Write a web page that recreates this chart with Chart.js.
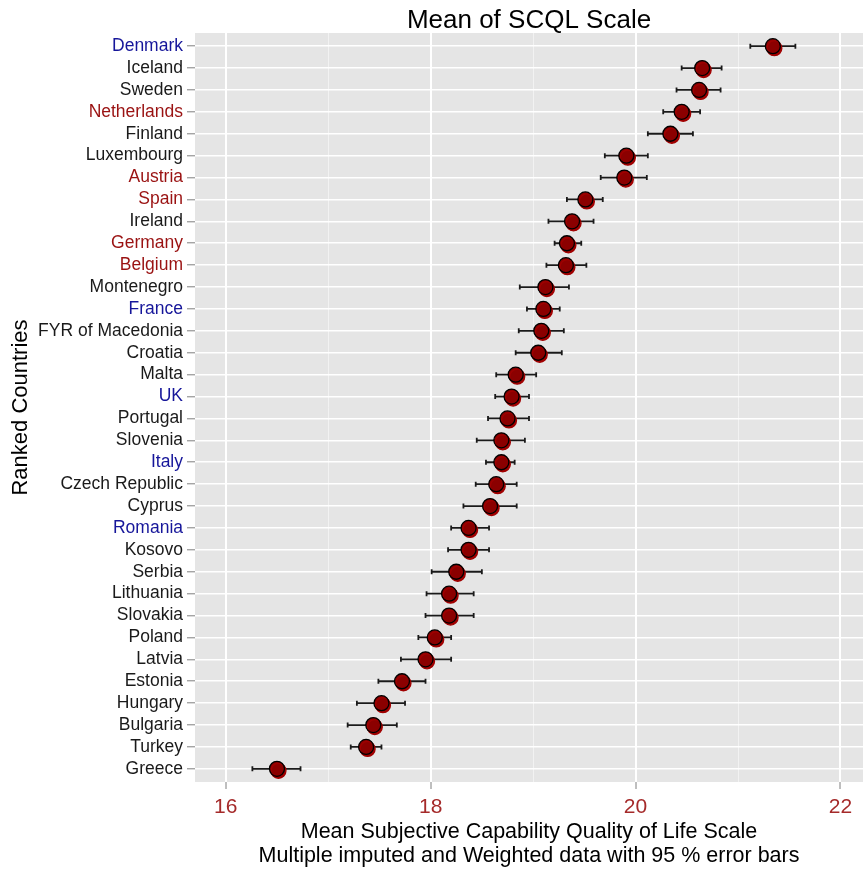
<!DOCTYPE html>
<html>
<head>
<meta charset="utf-8">
<title>Mean of SCQL Scale</title>
<script src="https://cdn.jsdelivr.net/npm/chart.js@4/dist/chart.umd.min.js"></script>
<style>
  html, body { margin: 0; padding: 0; background: #ffffff; }
  #wrap { width: 863px; height: 870px; position: relative; }
</style>
</head>
<body>
<div id="wrap"><canvas id="chart" width="863" height="870"></canvas></div>
<script>
// Countries ranked by mean SCQL score (top to bottom)
const countries = [
  'Denmark', 'Iceland', 'Sweden', 'Netherlands', 'Finland', 'Luxembourg',
  'Austria', 'Spain', 'Ireland', 'Germany', 'Belgium', 'Montenegro',
  'France', 'FYR of Macedonia', 'Croatia', 'Malta', 'UK', 'Portugal',
  'Slovenia', 'Italy', 'Czech Republic', 'Cyprus', 'Romania', 'Kosovo',
  'Serbia', 'Lithuania', 'Slovakia', 'Poland', 'Latvia', 'Estonia',
  'Hungary', 'Bulgaria', 'Turkey', 'Greece'
];

// Mean score and 95 % confidence limits
const means = [
  21.34, 20.65, 20.62, 20.45, 20.34, 19.91, 19.89, 19.51, 19.38, 19.33,
  19.32, 19.12, 19.10, 19.08, 19.05, 18.83, 18.79, 18.75, 18.69, 18.69,
  18.64, 18.58, 18.37, 18.37, 18.25, 18.18, 18.18, 18.04, 17.95, 17.72,
  17.52, 17.44, 17.37, 16.50
];
const lower = [
  21.12, 20.45, 20.40, 20.27, 20.12, 19.70, 19.66, 19.33, 19.15, 19.21,
  19.13, 18.87, 18.94, 18.86, 18.83, 18.64, 18.63, 18.56, 18.45, 18.54,
  18.44, 18.32, 18.20, 18.17, 18.01, 17.96, 17.95, 17.88, 17.71, 17.49,
  17.28, 17.19, 17.22, 16.26
];
const upper = [
  21.56, 20.84, 20.83, 20.63, 20.56, 20.12, 20.11, 19.68, 19.59, 19.47,
  19.52, 19.35, 19.26, 19.30, 19.28, 19.03, 18.96, 18.96, 18.92, 18.82,
  18.84, 18.84, 18.57, 18.57, 18.50, 18.42, 18.42, 18.20, 18.20, 17.95,
  17.75, 17.67, 17.52, 16.73
];

// Country groups with coloured labels
const blueCountries = ['Denmark', 'France', 'UK', 'Italy', 'Romania'];
const redCountries = ['Netherlands', 'Austria', 'Spain', 'Germany', 'Belgium'];

// X axis ticks (major ones carry a label)
const xTicks = [16, 17, 18, 19, 20, 21, 22];
const xTickLabels = ['16', '', '18', '', '20', '', '22'];

const chartTitle = 'Mean of SCQL Scale';

const FONT = "'Liberation Sans', Arial, Helvetica, sans-serif";
Chart.defaults.font.family = FONT;

// Grey panel behind the plotting area
const panelBackground = {
  id: 'panelBackground',
  beforeDraw(chart) {
    const { ctx, chartArea: a } = chart;
    ctx.save();
    ctx.fillStyle = '#ffffff';
    ctx.fillRect(0, 0, chart.width, chart.height);
    ctx.fillStyle = '#E5E5E5';
    ctx.fillRect(a.left, a.top, a.right - a.left, a.bottom - a.top);
    ctx.restore();
  }
};

// Title centred over the panel rather than the whole canvas
const panelTitle = {
  id: 'panelTitle',
  afterDraw(chart) {
    const { ctx, chartArea: a } = chart;
    ctx.save();
    ctx.font = '26px ' + FONT;
    ctx.fillStyle = '#000000';
    ctx.textAlign = 'center';
    ctx.textBaseline = 'alphabetic';
    ctx.fillText(chartTitle, (a.left + a.right) / 2, a.top - 5);
    ctx.restore();
  }
};

// Horizontal 95 % error bars with small end caps
const errorBars = {
  id: 'errorBars',
  beforeDatasetsDraw(chart) {
    const { ctx, scales: { x, y } } = chart;
    ctx.save();
    ctx.strokeStyle = '#1a1a1a';
    ctx.lineWidth = 1.8;
    const cap = 2.5;
    for (let i = 0; i < countries.length; i++) {
      const py = y.getPixelForValue(i);
      const x1 = x.getPixelForValue(lower[i]);
      const x2 = x.getPixelForValue(upper[i]);
      ctx.beginPath();
      ctx.moveTo(x1, py);
      ctx.lineTo(x2, py);
      ctx.moveTo(x1, py - cap);
      ctx.lineTo(x1, py + cap);
      ctx.moveTo(x2, py - cap);
      ctx.lineTo(x2, py + cap);
      ctx.stroke();
    }
    ctx.restore();
  }
};

// Red offset halo under each point
const pointHalo = {
  id: 'pointHalo',
  beforeDatasetDraw(chart) {
    const ctx = chart.ctx;
    ctx.save();
    ctx.shadowColor = '#A00000';
    ctx.shadowOffsetX = 1.5;
    ctx.shadowOffsetY = 2;
    ctx.shadowBlur = 0;
  },
  afterDatasetDraw(chart) {
    chart.ctx.restore();
  }
};

function labelColour(name) {
  if (blueCountries.includes(name)) return '#16169A';
  if (redCountries.includes(name)) return '#9A1212';
  return '#1a1a1a';
}

new Chart(document.getElementById('chart'), {
  type: 'scatter',
  data: {
    datasets: [{
      label: 'Mean SCQL',
      data: means.map((m, i) => ({ x: m, y: i })),
      pointRadius: 7.5,
      pointHoverRadius: 7.5,
      pointBackgroundColor: '#8B0000',
      pointBorderColor: '#000000',
      pointBorderWidth: 1.3
    }]
  },
  options: {
    responsive: false,
    animation: false,
    events: [],
    layout: { padding: { top: 33, left: 0, right: 0, bottom: 0 }, autoPadding: false },
    plugins: {
      legend: { display: false },
      tooltip: { enabled: false },
      title: { display: false }
    },
    scales: {
      x: {
        type: 'linear',
        min: 15.7,
        max: 22.22,
        afterBuildTicks(scale) {
          scale.ticks = xTicks.map(v => ({ value: v }));
        },
        afterFit(scale) {
          scale.height = 88;
          scale.paddingLeft = 0;
          scale.paddingRight = 0;
        },
        border: { display: false },
        grid: {
          color: ctx => (ctx.index % 2 === 0 ? '#FFFFFF' : '#F2F2F2'),
          lineWidth: ctx => (ctx.index % 2 === 0 ? 2 : 1),
          drawTicks: true,
          tickLength: 7,
          tickWidth: 1,
          tickColor: ctx => (ctx.index % 2 === 0 ? '#7F7F7F' : 'rgba(0,0,0,0)')
        },
        ticks: {
          autoSkip: false,
          maxRotation: 0,
          padding: 8,
          color: '#A52A2A',
          font: { size: 21, lineHeight: 1 },
          callback: (v, i) => xTickLabels[i]
        },
        title: {
          display: true,
          text: ['Mean Subjective Capability Quality of Life Scale',
                 'Multiple imputed and Weighted data with 95 % error bars'],
          color: '#000000',
          font: { size: 21.5, lineHeight: 1.12 },
          padding: { top: 0, bottom: 2 }
        }
      },
      y: {
        type: 'linear',
        reverse: true,
        min: -0.6,
        max: countries.length - 1 + 0.6,
        afterBuildTicks(scale) {
          scale.ticks = countries.map((c, i) => ({ value: i }));
        },
        afterFit(scale) {
          scale.width = 195;
          scale.paddingTop = 0;
          scale.paddingBottom = 0;
        },
        border: { display: false },
        grid: {
          color: '#FFFFFF',
          lineWidth: 1.6,
          drawTicks: true,
          tickLength: 8,
          tickWidth: 1,
          tickColor: '#7F7F7F'
        },
        ticks: {
          autoSkip: false,
          padding: 4,
          font: { size: 17.5, lineHeight: 1 },
          color: ctx => labelColour(countries[ctx.index]),
          callback: (v, i) => countries[i]
        },
        title: {
          display: true,
          text: 'Ranked Countries',
          color: '#000000',
          font: { size: 22, lineHeight: 1 },
          padding: { top: 10, bottom: 0 }
        }
      }
    }
  },
  plugins: [panelBackground, errorBars, pointHalo, panelTitle]
});
</script>
</body>
</html>
